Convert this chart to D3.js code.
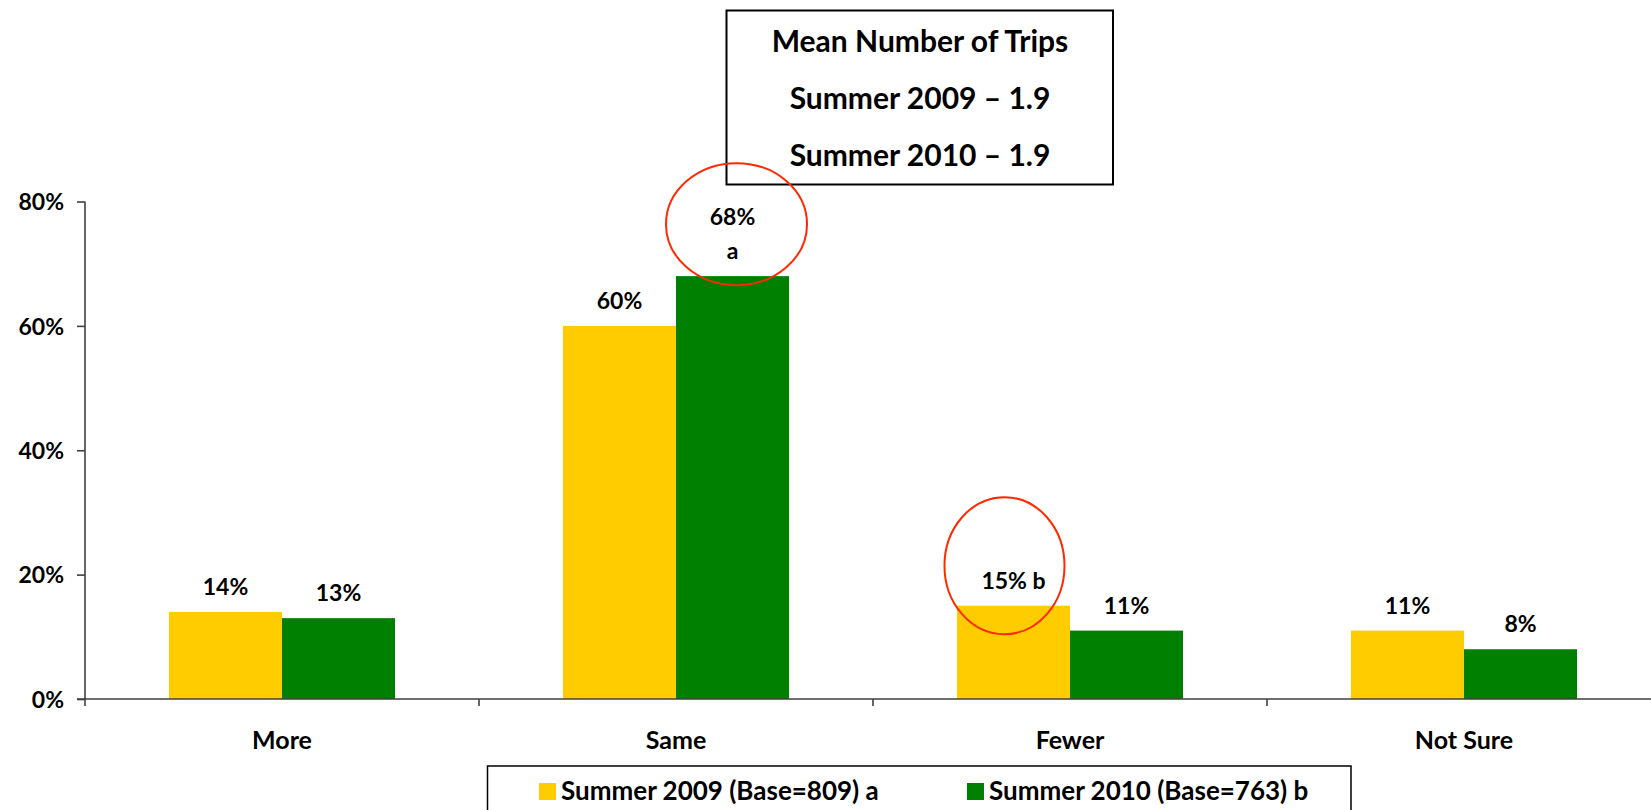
<!DOCTYPE html>
<html>
<head>
<meta charset="utf-8">
<script src="https://cdn.jsdelivr.net/npm/d3@7"></script>
<style>
  body { margin: 0; background: #fff; }
  text { font-family: Lato, "Open Sans", sans-serif; font-weight: bold; fill: #000; }
</style>
</head>
<body>
<svg id="chart" width="1651" height="810"></svg>
<script>
// chart data
var categories = ["More", "Same", "Fewer", "Not Sure"];
var seriesNames = ["Summer 2009 (Base=809) a", "Summer 2010 (Base=763) b"];
var values2009 = [14, 60, 15, 11];
var values2010 = [13, 68, 11, 8];
var labels2009 = ["14%", "60%", "15% b", "11%"];
var labels2010 = ["13%", "68%|a", "11%", "8%"];
var yTicks = [0, 20, 40, 60, 80];
var titleLines = ["Mean Number of Trips", "Summer 2009 \u2013 1.9", "Summer 2010 \u2013 1.9"];
// bars circled in red: [category, series]
var highlights = [["Same", seriesNames[1]], ["Fewer", seriesNames[0]]];

var colors = { };
colors[seriesNames[0]] = "#FFCC00";
colors[seriesNames[1]] = "#008000";

var svg = d3.select("#chart");

var x0 = d3.scaleBand().domain(categories).range([85, 85 + 4 * 394]).padding(0);
var x1 = d3.scaleBand().domain(seriesNames).range([0, x0.bandwidth()])
    .paddingInner(0).paddingOuter(0.743);
var y = d3.scaleLinear().domain([0, 80]).range([699, 201.5]);

// rows: one per bar
var rows = [];
categories.forEach(function (c, i) {
  rows.push({ cat: c, s: seriesNames[0], v: values2009[i], lbl: labels2009[i] });
  rows.push({ cat: c, s: seriesNames[1], v: values2010[i], lbl: labels2010[i] });
});

// bars
svg.append("g").selectAll("rect").data(rows).enter().append("rect")
  .attr("x", function (d) { return x0(d.cat) + x1(d.s); })
  .attr("y", function (d) { return y(d.v); })
  .attr("width", x1.bandwidth())
  .attr("height", function (d) { return y(0) - y(d.v); })
  .attr("fill", function (d) { return colors[d.s]; });

// y axis
var yAxis = svg.append("g").attr("transform", "translate(85,0)")
  .call(d3.axisLeft(y).tickValues(yTicks).tickFormat(function (d) { return d + "%"; })
    .tickSize(8).tickPadding(13));
yAxis.select(".domain").attr("stroke", "#404040").attr("stroke-width", 1.6)
  .attr("d", "M0," + y(80) + "V" + (y(0) + 7));
yAxis.selectAll(".tick line").attr("stroke", "#404040").attr("stroke-width", 1.6);
yAxis.selectAll(".tick text").style("font-size", "23px").attr("dy", "0.36em");

// x axis line and category separators
svg.append("line")
  .attr("x1", 77).attr("x2", 1651).attr("y1", y(0)).attr("y2", y(0))
  .attr("stroke", "#404040").attr("stroke-width", 1.6);
svg.append("g").selectAll("line").data(categories.slice(1)).enter().append("line")
  .attr("x1", function (d) { return x0(d); })
  .attr("x2", function (d) { return x0(d); })
  .attr("y1", y(0)).attr("y2", y(0) + 7)
  .attr("stroke", "#404040").attr("stroke-width", 1.6);

// category labels
svg.append("g").selectAll("text").data(categories).enter().append("text")
  .attr("x", function (d) { return x0(d) + x0.bandwidth() / 2; })
  .attr("y", 749)
  .attr("text-anchor", "middle")
  .style("font-size", "25px")
  .text(function (d) { return d; });

// value labels
var lblG = svg.append("g").selectAll("text").data(rows).enter().append("text")
  .attr("text-anchor", "middle")
  .style("font-size", "23px")
  .attr("transform", function (d) {
    return "translate(" + (x0(d.cat) + x1(d.s) + x1.bandwidth() / 2) + "," + (y(d.v) - 17) + ")";
  });
lblG.each(function (d) {
  var parts = d.lbl.split("|");
  var t = d3.select(this);
  parts.forEach(function (p, k) {
    t.append("tspan").attr("x", 0).attr("y", -(parts.length - 1 - k) * 34).text(p);
  });
});

// mean-trips box
svg.append("rect")
  .attr("x", 726.5).attr("y", 10.5).attr("width", 386.5).attr("height", 174)
  .attr("fill", "#fff").attr("stroke", "#000").attr("stroke-width", 2);
svg.append("g").selectAll("text").data(titleLines).enter().append("text")
  .attr("x", 920)
  .attr("y", function (d, i) { return 52 + i * 57; })
  .attr("text-anchor", "middle")
  .style("font-size", "30px")
  .text(function (d) { return d; });

// red highlight ellipses (drawn over the box)
var ellipseShape = [{ dx: 4, dy: -52, rx: 70.5, ry: 61 }, { dx: -9, dy: -40, rx: 60, ry: 68.5 }];
svg.append("g").selectAll("ellipse").data(highlights).enter().append("ellipse")
  .attr("cx", function (d, i) { return x0(d[0]) + x1(d[1]) + x1.bandwidth() / 2 + ellipseShape[i].dx; })
  .attr("cy", function (d, i) {
    var v = d[1] === seriesNames[0] ? values2009[categories.indexOf(d[0])] : values2010[categories.indexOf(d[0])];
    return y(v) + ellipseShape[i].dy;
  })
  .attr("rx", function (d, i) { return ellipseShape[i].rx; })
  .attr("ry", function (d, i) { return ellipseShape[i].ry; })
  .attr("fill", "none")
  .attr("stroke", "#FF2A00")
  .attr("stroke-width", 2);

// legend
var legend = svg.append("g");
legend.append("rect")
  .attr("x", 487.5).attr("y", 766).attr("width", 863.5).attr("height", 60)
  .attr("fill", "#fff").attr("stroke", "#000").attr("stroke-width", 1.5);
var legX = [539, 967];
var items = legend.selectAll("g.item").data(seriesNames).enter().append("g")
  .attr("transform", function (d, i) { return "translate(" + legX[i] + ",783)"; });
items.append("rect").attr("width", 17).attr("height", 17)
  .attr("fill", function (d) { return colors[d]; });
items.append("text").attr("x", 22).attr("y", 17)
  .style("font-size", "26px")
  .text(function (d) { return d; });
</script>
</body>
</html>
